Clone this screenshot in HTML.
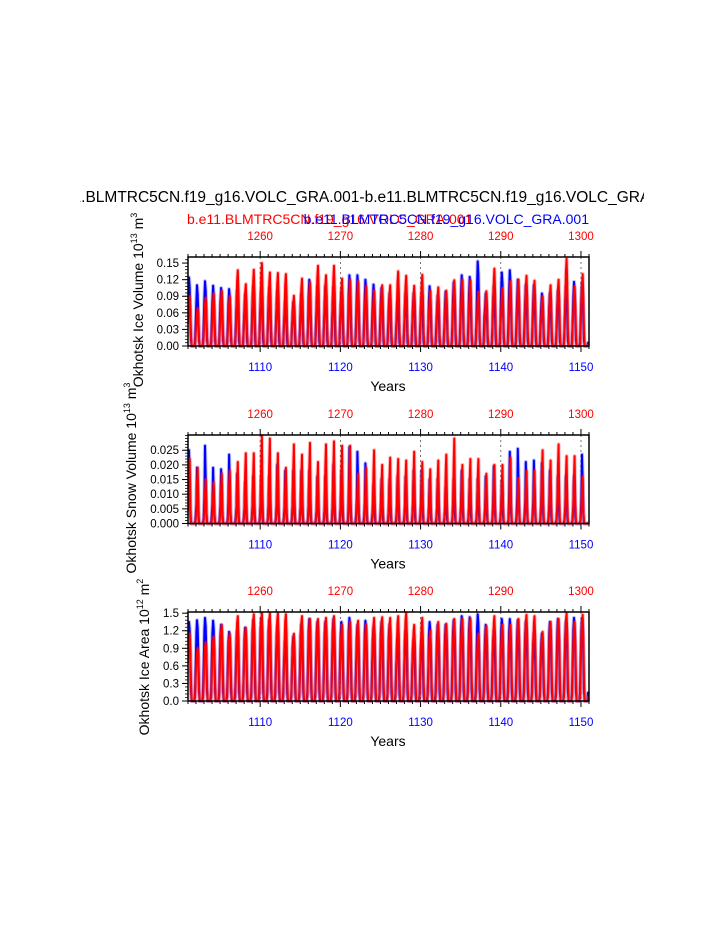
<!DOCTYPE html>
<html><head><meta charset="utf-8">
<style>
html,body{margin:0;padding:0;background:#fff;}
svg{display:block;font-family:"Liberation Sans",Helvetica,Arial,sans-serif;}
</style></head>
<body>
<svg id="chart" width="723" height="935" viewBox="0 0 723 935" xmlns="http://www.w3.org/2000/svg">
<defs><clipPath id="titleclip"><rect x="80" y="180" width="564" height="30"/></clipPath></defs>
<text clip-path="url(#titleclip)" x="362" y="202" font-size="15.5" text-anchor="middle">b.e11.BLMTRC5CN.f19_g16.VOLC_GRA.001-b.e11.BLMTRC5CN.f19_g16.VOLC_GRA.001</text>
<text x="187" y="224" font-size="14" fill="#ff0000">b.e11.BLMTRC5CN.f19_g16.VOLC_GRA.001</text>
<text x="589" y="224" font-size="14" fill="#0000ff" text-anchor="end">b.e11.BLMTRC5CN.f19_g16.VOLC_GRA.001</text>
</svg>
<script>
// ---- data ----
const startYear = 1101;
const endYear = 1151;
const decadeTicks = [1110, 1120, 1130, 1140, 1150];
const topTickLabels = ["1260", "1270", "1280", "1290", "1300"];
const iceVolRed = [.09,.068,.087,.095,.10,.09,.137,.112,.138,.15,.133,.132,.13,.091,.122,.115,.145,.128,.145,.122,.12,.117,.108,.10,.11,.11,.135,.127,.109,.129,.10,.106,.10,.119,.12,.119,.098,.099,.14,.105,.117,.12,.127,.118,.09,.11,.12,.158,.108,.13];
const iceVolBlue = [.124,.11,.117,.109,.105,.103,.10,.093,.108,.10,.105,.10,.08,.08,.094,.12,.108,.108,.106,.10,.128,.128,.12,.111,.105,.095,.08,.096,.095,.095,.108,.09,.098,.115,.128,.125,.153,.095,.108,.133,.137,.12,.11,.11,.095,.095,.10,.108,.116,.114];
const snowRed = [.022,.019,.015,.014,.017,.018,.021,.024,.024,.030,.029,.024,.019,.027,.0235,.0275,.021,.027,.028,.0265,.0265,.017,.019,.025,.020,.0225,.022,.0215,.0245,.021,.0185,.0215,.0235,.029,.020,.022,.022,.017,.020,.020,.0225,.0155,.018,.018,.025,.0215,.027,.023,.023,.016];
const snowBlue = [.025,.019,.0265,.019,.0185,.0235,.017,.014,.016,.016,.016,.020,.018,.018,.018,.018,.016,.016,.020,.018,.026,.0245,.0205,.013,.015,.015,.016,.016,.018,.018,.015,.015,.012,.015,.018,.015,.015,.016,.0195,.0145,.0245,.0255,.021,.0215,.0205,.018,.016,.016,.016,.0235];
const areaRed = [1.15,.9,1.0,1.1,1.3,1.15,1.45,1.25,1.48,1.5,1.5,1.5,1.48,1.15,1.45,1.4,1.4,1.42,1.45,1.3,1.35,1.37,1.3,1.42,1.43,1.42,1.45,1.5,1.3,1.42,1.2,1.35,1.32,1.4,1.4,1.4,1.15,1.28,1.45,1.3,1.3,1.4,1.47,1.45,1.18,1.35,1.4,1.5,1.35,1.47];
const areaBlue = [1.35,1.38,1.42,1.37,1.3,1.18,1.2,1.25,1.38,1.4,1.38,1.28,1.02,1.1,1.3,1.4,1.35,1.35,1.4,1.35,1.42,1.3,1.37,1.25,1.35,1.3,1.05,1.2,1.05,1.05,1.35,1.3,1.3,1.38,1.45,1.43,1.48,1.3,1.2,1.4,1.4,1.38,1.35,1.15,1.15,1.35,1.4,1.35,1.42,1.4];
// monthly seasonal fractions of the annual peak (Jan..Dec)
const iceShapeBlue = [.75,1.0,.85,.45,.08,0,0,0,0,0,.05,.35];
const iceShapeRed = [.55,.85,1.0,.7,.2,0,0,0,0,0,.02,.25];
const snowShapeBlue = [.35,1.0,.6,.15,0,0,0,0,0,0,0,.1];
const snowShapeRed = [.25,.7,1.0,.3,.02,0,0,0,0,0,0,.05];
const areaShapeBlue = [.85,1.0,.9,.55,.12,0,0,0,0,0,.1,.45];
const areaShapeRed = [.7,.92,1.0,.75,.25,0,0,0,0,0,.05,.35];
const iceVolTicks = [0,.03,.06,.09,.12,.15];
const snowTicks = [0,.005,.01,.015,.02,.025];
const areaTicks = [0,.3,.6,.9,1.2,1.5];

const NS = "http://www.w3.org/2000/svg";
const svg = document.getElementById("chart");
function mk(tag, attrs, parent) {
  const e = document.createElementNS(NS, tag);
  for (const k in attrs) e.setAttribute(k, attrs[k]);
  (parent || svg).appendChild(e);
  return e;
}
const X0 = 188, X1 = 589;
function xs(t) { return X0 + (t - startYear) / (endYear - startYear) * (X1 - X0); }
let clipN = 0;

function panel(cfg) {
  const g = mk("g", {});
  
  
  const top = cfg.top, bot = cfg.bot;
  const ys = v => bot - v / cfg.ymax * (bot - top);
  const defs = mk("defs", {}, g);
  const cid = "pc" + (clipN++);
  const cp = mk("clipPath", {id: cid}, defs);
  mk("rect", {x: X0, y: top - 2, width: X1 - X0, height: bot - top + 4}, cp);
  decadeTicks.forEach(d => {
    const l = mk("line", {x1: xs(d), x2: xs(d), y1: top, y2: bot, stroke: "#555", "stroke-width": 0.8, "stroke-dasharray": "2,3"}, g);
    
    
  });
  const sg = mk("g", {"clip-path": "url(#" + cid + ")"}, g);
  function series(peaks, shape, color, nm) {
    let d = "";
    const pts = [];
    pts.push([startYear, shape[0]*peaks[0]*0.8]);
    peaks.forEach((p, i) => {
      shape.forEach((s, m) => {
        const last = (i === peaks.length - 1 && m === 11);
        pts.push([startYear + i + (m + 0.5) / 12, last ? 0 : s * p]);
      });
    });
    pts.forEach((pt, i) => { d += (i ? "L" : "M") + xs(pt[0]).toFixed(1) + "," + ys(pt[1]).toFixed(1); });
    const faint = mk("path", {d: d, fill: "none", stroke: color, "stroke-opacity": 0.25, "stroke-width": 4, "stroke-linejoin": "round"}, sg);
    
    
    const p = mk("path", {d: d, fill: "none", stroke: color, "stroke-width": 2, "stroke-linejoin": "round"}, sg);
    
    
  }
  series(cfg.blue, cfg.shapeBlue, "#0000ff", "series-blue");
  series(cfg.red, cfg.shapeRed, "#ff0000", "series-red");
  const fr = mk("rect", {x: X0, y: top, width: X1 - X0, height: bot - top, fill: "none", stroke: "#000", "stroke-width": 1.5}, g);
  
  
  for (let yr = startYear; yr <= endYear; yr++) {
    const x = xs(yr);
    const major = decadeTicks.indexOf(yr) >= 0;
    const len = major ? 6 : 3;
    mk("line", {x1: x, x2: x, y1: bot, y2: bot + len, stroke: "#000", "stroke-width": 1}, g);
    mk("line", {x1: x, x2: x, y1: top, y2: top - len, stroke: "#000", "stroke-width": 1}, g);
  }
  decadeTicks.forEach((d, i) => {
    const b = mk("text", {x: xs(d), y: bot + 25, "font-size": 11.5, fill: "#0000ff", "text-anchor": "middle"}, g);
    b.textContent = String(d);
    
    
    const t = mk("text", {x: xs(d), y: top - 17, "font-size": 11.5, fill: "#ff0000", "text-anchor": "middle"}, g);
    t.textContent = topTickLabels[i];
    
    
  });
  const step = cfg.ticks[1] - cfg.ticks[0];
  for (let v = 0; v <= cfg.ymax + 1e-9; v += step / 5) {
    mk("line", {x1: X0, x2: X0 - 3, y1: ys(v), y2: ys(v), stroke: "#000", "stroke-width": 0.8}, g);
  }
  cfg.ticks.forEach(v => {
    mk("line", {x1: X0, x2: X0 - 6, y1: ys(v), y2: ys(v), stroke: "#000", "stroke-width": 1}, g);
    const t = mk("text", {x: X0 - 9, y: ys(v) + 4, "font-size": 11.5, "text-anchor": "end"}, g);
    t.textContent = v.toFixed(cfg.dec);
    
    
  });
  const xt = mk("text", {x: 388, y: bot + 45, "font-size": 14, "text-anchor": "middle"}, g);
  xt.textContent = "Years";
  
  
  const yt = mk("text", {transform: "translate(" + cfg.ylx + "," + cfg.ylc + ") rotate(-90)", "font-size": 14, "text-anchor": "middle"}, g);
  yt.innerHTML = cfg.ylabel;
  
  
}
panel({name: "ice-volume-panel", top: 257, bot: 346, ymax: 0.161, ticks: iceVolTicks, dec: 2, red: iceVolRed, blue: iceVolBlue, shapeRed: iceShapeRed, shapeBlue: iceShapeBlue, ylx: 143, ylc: 300, ylabel: 'Okhotsk Ice Volume 10<tspan font-size="9" dy="-6">13</tspan><tspan dy="6"> m</tspan><tspan font-size="9" dy="-6">3</tspan>'});
panel({name: "snow-volume-panel", top: 435, bot: 523.5, ymax: 0.0302, ticks: snowTicks, dec: 3, red: snowRed, blue: snowBlue, shapeRed: snowShapeRed, shapeBlue: snowShapeBlue, ylx: 136, ylc: 478, ylabel: 'Okhotsk Snow Volume 10<tspan font-size="9" dy="-6">13</tspan><tspan dy="6"> m</tspan><tspan font-size="9" dy="-6">3</tspan>'});
panel({name: "ice-area-panel", top: 612, bot: 701, ymax: 1.52, ticks: areaTicks, dec: 1, red: areaRed, blue: areaBlue, shapeRed: areaShapeRed, shapeBlue: areaShapeBlue, ylx: 149, ylc: 657, ylabel: 'Okhotsk Ice Area 10<tspan font-size="9" dy="-6">12</tspan><tspan dy="6"> m</tspan><tspan font-size="9" dy="-6">2</tspan>'});
</script>
</body></html>
